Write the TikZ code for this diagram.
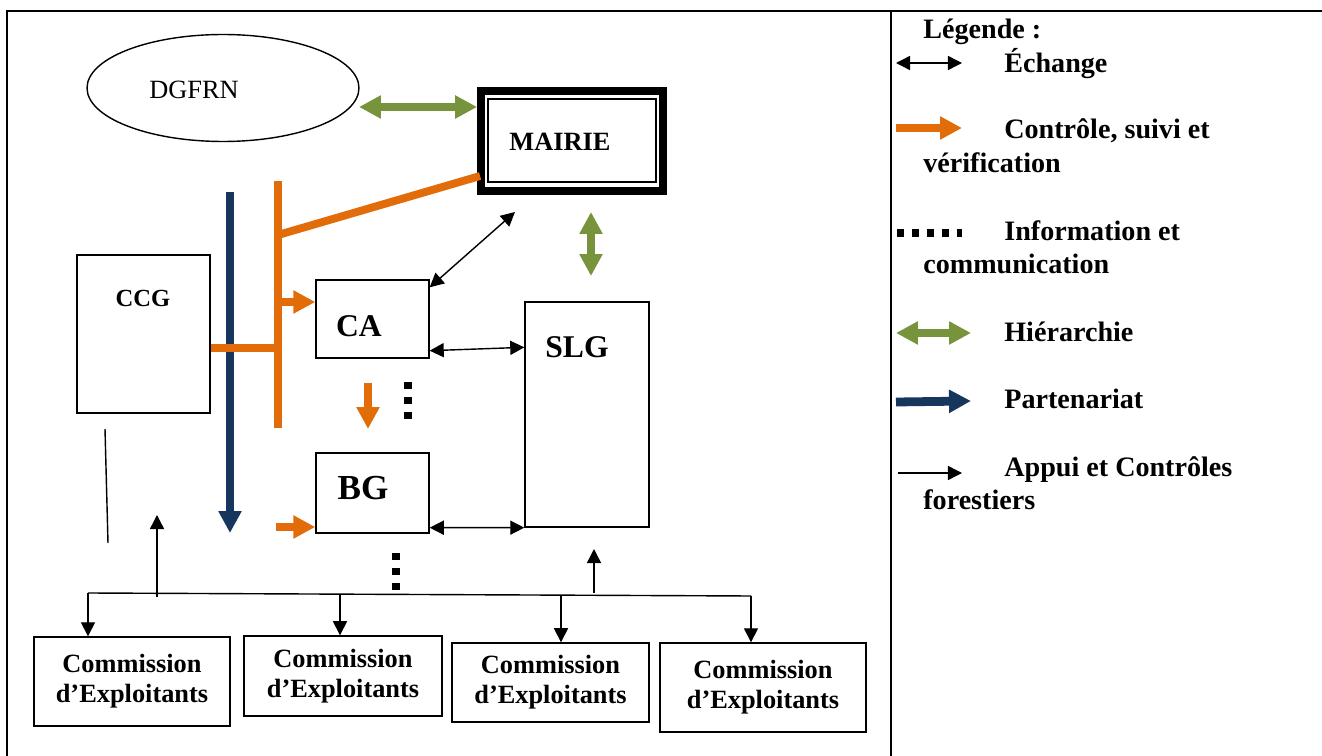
\documentclass[tikz,border=0pt]{standalone}
\usepackage{fontspec}
\setmainfont{Liberation Serif}
\usetikzlibrary{arrows.meta,calc,shapes.geometric}
\definecolor{ctrlorange}{RGB}{227,108,10}
\definecolor{hiergreen}{RGB}{119,147,60}
\definecolor{partnavy}{RGB}{23,54,93}
\tikzset{
  Fat/.tip={Triangle[length=12.5pt,width=12.5pt]},
  Slim/.tip={Triangle[length=8pt,width=8pt]},
  box/.style={draw, line width=0.8pt, inner sep=0pt},
  commission/.style={box, align=center, font=\bfseries\fontsize{15}{17}\selectfont},
  boxname/.style={anchor=base, font=\bfseries\fontsize{#1}{#1}\selectfont},
  legtext/.style={anchor=base west, inner sep=0pt, font=\bfseries\fontsize{16}{19}\selectfont},
  echange/.style={line width=0.8pt, Slim-Slim},
  appui/.style={line width=0.8pt, -Slim},
  controle/.style={ctrlorange, line width=4.5pt},
  hierarchie/.style={hiergreen, line width=4.5pt, Fat-Fat},
  partenariat/.style={partnavy, line width=4.5pt, -Fat},
  info/.style={line width=4pt, dash pattern=on 4pt off 4.5pt}
}
\begin{document}
\begin{tikzpicture}[x=0.02cm, y=-0.02cm]
    \useasboundingbox (0,0) rectangle (1322,756);
    \draw[line width=1.2pt] (7,756) -- (7,11) -- (1322,11);
    \draw[line width=1.2pt] (891,11) -- (891,756);

    \node[ellipse, draw, line width=0.8pt, minimum width=5.44cm, minimum height=2.14cm] (dgfrn) at (223,88) {};
    \node[anchor=base, font=\fontsize{15}{17}\selectfont] (dgfrn-nom) at (194,99) {DGFRN};
    \node[draw, line width=4.5pt, minimum width=3.64cm, minimum height=2cm] (mairie) at (572,141) {};
    \draw[line width=1pt] ($(mairie.north west)+(11,12)$) rectangle ($(mairie.south east)+(-11,-13)$);
    \node[boxname=15] (mairie-nom) at (560,151) {MAIRIE};

    \node[box, minimum width=2.66cm, minimum height=3.16cm] (ccg) at (143.5,334) {};
    \node[boxname=14] (ccg-nom) at (143,307) {CCG};
    \node[box, minimum width=2.26cm, minimum height=1.56cm] (ca) at (372.5,319) {};
    \node[boxname=18] (ca-nom) at (359,337) {CA};
    \node[box, minimum width=2.26cm, minimum height=1.6cm] (bg) at (372.5,493) {};
    \node[boxname=20] (bg-nom) at (363,500) {BG};
    \node[box, minimum width=2.48cm, minimum height=4.5cm] (slg) at (587,414.5) {};
    \node[boxname=18] (slg-nom) at (577,358) {SLG};

    \node[commission, minimum width=3.92cm, minimum height=1.78cm] (com1) at (132,681.5) {Commission\\d’Exploitants};
    \node[commission, minimum width=3.96cm, minimum height=1.6cm] (com2) at (343,676) {Commission\\d’Exploitants};
    \node[commission, minimum width=3.94cm, minimum height=1.58cm] (com3) at (550.5,682.5) {Commission\\d’Exploitants};
    \node[commission, minimum width=4.12cm, minimum height=1.78cm] (com4) at (763,687.5) {Commission\\d’Exploitants};

    \coordinate (dgfrn-bord) at (359,107);
    \coordinate (bar-haut) at (278,181);
    \coordinate (bar-bas) at (278,428);
    \coordinate (bar-coude) at (278,235);
    \coordinate (bar-ccg) at (278,348);
    \coordinate (bar-ca) at (278,302);
    \coordinate (bg-ctrl) at (276,527);
    \coordinate (ca-ctrl) at (368,383);
    \coordinate (bg-haut) at (368,429);
    \coordinate (part-haut) at (230,192);
    \coordinate (part-bas) at (230,533);
    \coordinate (mairie-bas) at (515,212);
    \coordinate (slg-hier) at (591,212);
    \coordinate (slg-haut) at (591,276);
    \coordinate (info-ca) at (408,382);
    \coordinate (info-bg) at (408,420);
    \coordinate (info-haut) at (396,553);
    \coordinate (info-bas) at (396,593);
    \coordinate (trait-haut) at (105,429);
    \coordinate (trait-bas) at (108,543);
    \coordinate (bus-g) at (88,593);
    \coordinate (bus-2) at (340,594.5);
    \coordinate (bus-3) at (561,595.5);
    \coordinate (bus-d) at (751,596);
    \coordinate (bus-ccg) at (157,597);
    \coordinate (ccg-appui) at (157,515);
    \coordinate (bus-slg) at (594,593);
    \coordinate (slg-appui) at (594,549);

    \draw[hierarchie] (dgfrn-bord) -- (dgfrn-bord -| mairie.west);
    \draw[hierarchie] (slg-hier) -- (slg-haut);
    \draw[partenariat] (part-haut) -- (part-bas);
    \draw[controle] (bar-haut) -- (bar-bas);
    \draw[controle] ($(mairie.west)+(3,35)$) -- (bar-coude);
    \draw[controle] (ccg.east |- bar-ccg) -- (bar-ccg);
    \draw[controle, -Fat] (bar-ca) -- (bar-ca -| ca.west);
    \draw[controle, -Fat] (bg-ctrl) -- (bg-ctrl -| bg.west);
    \draw[controle, -Fat] (ca-ctrl) -- (bg-haut);
    \draw[info] (info-ca) -- (info-bg);
    \draw[info] (info-haut) -- (info-bas);
    \draw[echange] (mairie-bas) -- ($(ca.north east)+(0,8)$);
    \draw[echange] ($(ca.south east)+(0,-8)$) -- ($(slg.north west)+(0,46)$);
    \draw[echange] ($(bg.south east)+(0,-6)$) -- (slg.south west);
    \draw[line width=0.8pt] (trait-haut) -- (trait-bas);
    \draw[line width=0.8pt] (bus-g) -- (bus-d);
    \draw[appui] (bus-g) -- (bus-g |- com1.north);
    \draw[appui] (bus-2) -- (bus-2 |- com2.north);
    \draw[appui] (bus-3) -- (bus-3 |- com3.north);
    \draw[appui] (bus-d) -- (bus-d |- com4.north);
    \draw[appui] (bus-ccg) -- (ccg-appui);
    \draw[appui] (bus-slg) -- (slg-appui);

    \node[legtext] (leg-titre) at (923,39) {Légende :};
    \coordinate (leg-ech-a) at (896,63);
    \coordinate (leg-ech-b) at (962,63);
    \draw[echange] (leg-ech-a) -- (leg-ech-b);
    \node[legtext] (leg-ech) at (1004,73) {Échange};
    \coordinate (leg-ctrl-a) at (896,128);
    \coordinate (leg-ctrl-b) at (962,128);
    \draw[controle, line width=5pt, -Fat] (leg-ctrl-a) -- (leg-ctrl-b);
    \node[legtext] (leg-ctrl) at (1004,139) {Contrôle, suivi et};
    \node[legtext] (leg-ctrl-2) at (923,173) {vérification};
    \coordinate (leg-info-a) at (897,233);
    \coordinate (leg-info-b) at (962,233);
    \draw[info] (leg-info-a) -- (leg-info-b);
    \node[legtext] (leg-info) at (1004,241) {Information et};
    \node[legtext] (leg-info-2) at (923,274) {communication};
    \coordinate (leg-hier-a) at (896,333);
    \coordinate (leg-hier-b) at (971,333);
    \draw[hierarchie, line width=5pt] (leg-hier-a) -- (leg-hier-b);
    \node[legtext] (leg-hier) at (1004,342) {Hiérarchie};
    \coordinate (leg-part-a) at (896,402);
    \coordinate (leg-part-b) at (971,401);
    \draw[partenariat, line width=5pt] (leg-part-a) -- (leg-part-b);
    \node[legtext] (leg-part) at (1004,409) {Partenariat};
    \coordinate (leg-app-a) at (898,473);
    \coordinate (leg-app-b) at (962,473);
    \draw[appui] (leg-app-a) -- (leg-app-b);
    \node[legtext] (leg-app) at (1004,477) {Appui et Contrôles};
    \node[legtext] (leg-app-2) at (923,510) {forestiers};
\end{tikzpicture}
\end{document}
